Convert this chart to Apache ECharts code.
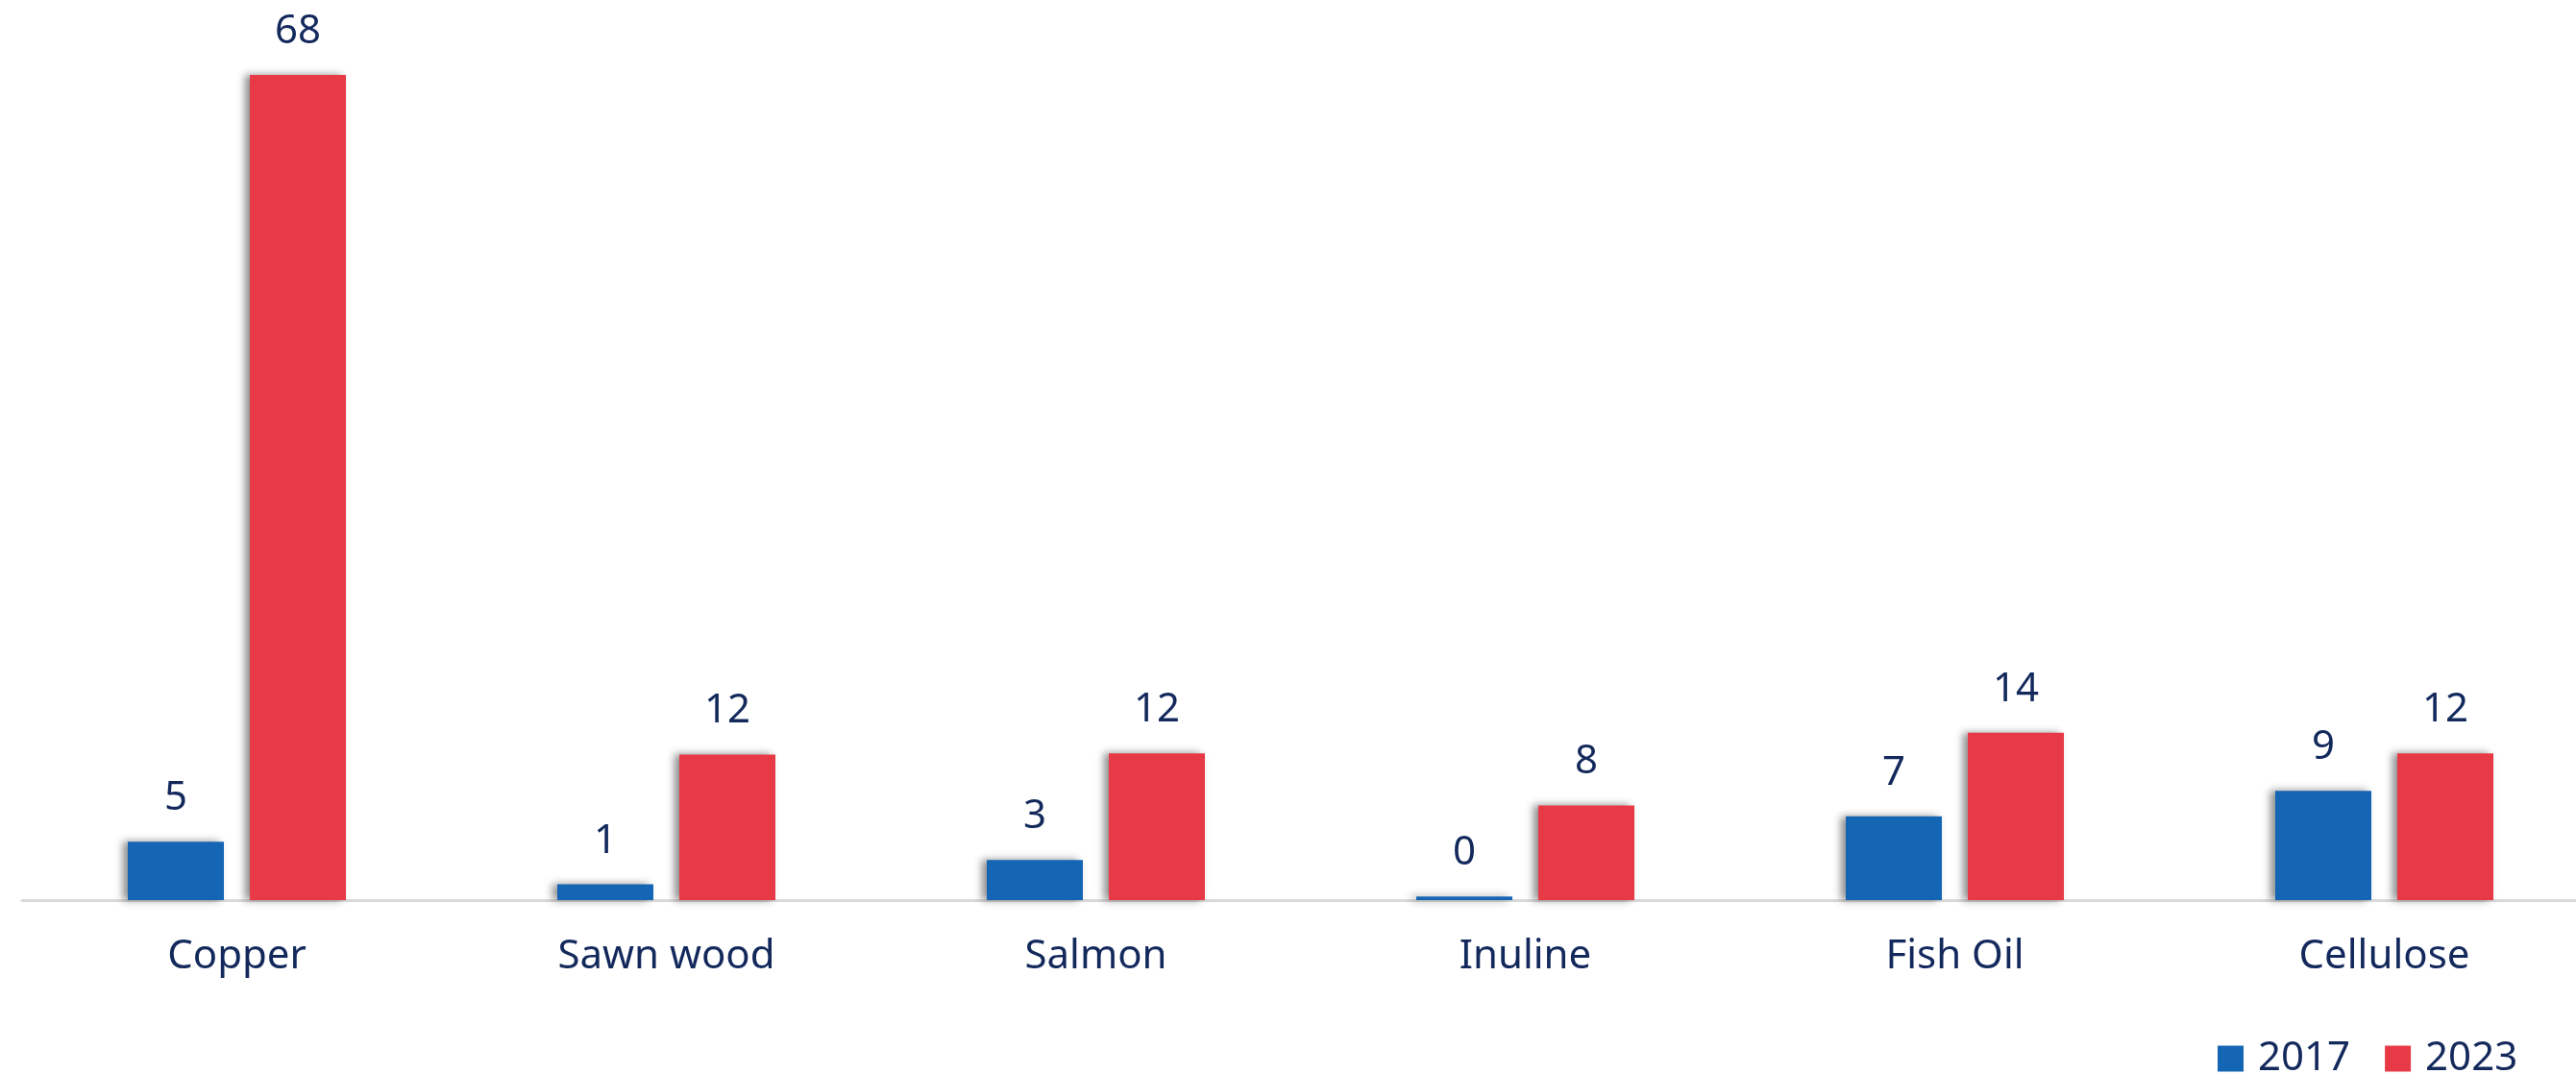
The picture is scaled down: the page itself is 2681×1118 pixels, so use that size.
<!DOCTYPE html>
<html>
<head>
<meta charset="utf-8">
<script src="https://cdn.jsdelivr.net/npm/echarts@6/dist/echarts.min.js"></script>
<style>
html,body{margin:0;padding:0;background:#fff;overflow:hidden;width:2681px;height:1118px;}
#chart{width:2740px;height:1118px;}
</style>
</head>
<body>
<div id="chart"></div>
<script>
const categories = ["Copper", "Sawn wood", "Salmon", "Inuline", "Fish Oil", "Cellulose"];
const seriesNames = ["2017", "2023"];
const values2017 = [4.8, 1.3, 3.3, 0.3, 6.9, 9.0];
const values2023 = [68, 12.0, 12.1, 7.8, 13.8, 12.1];

const textColor = "#13295c";
const fontFamily = "'Noto Sans', 'Open Sans', sans-serif";

const chart = echarts.init(document.getElementById('chart'));

function barSeries(name, data, color) {
  return {
    name: name,
    type: 'bar',
    data: data,
    barWidth: 100,
    barGap: '27%',
    itemStyle: {
      color: color,
      shadowColor: 'rgba(0,0,0,0.45)',
      shadowBlur: 8,
      shadowOffsetX: -5,
      shadowOffsetY: 0
    },
    label: {
      show: true,
      position: 'top',
      distance: 24,
      color: textColor,
      fontSize: 42,
      fontFamily: fontFamily,
      formatter: p => Math.round(p.value)
    }
  };
}

chart.setOption({
  animation: false,
  backgroundColor: '#ffffff',
  grid: { left: 23, width: 2682, top: 78, bottom: 181, containLabel: false },
  legend: {
    data: seriesNames,
    left: 2303,
    top: 1076,
    itemWidth: 27,
    itemHeight: 27,
    itemGap: 36,
    icon: 'rect',
    textStyle: { color: textColor, fontSize: 42, fontFamily: fontFamily, padding: [0, 0, 0, 10] }
  },
  xAxis: {
    type: 'category',
    data: categories,
    axisLine: { show: true, lineStyle: { color: '#d9d9d9', width: 3 } },
    axisTick: { show: false },
    axisLabel: { color: textColor, fontSize: 42, fontFamily: fontFamily, margin: 38 }
  },
  yAxis: {
    type: 'value',
    min: 0,
    max: 68,
    show: false,
    splitLine: { show: false }
  },
  series: [
    barSeries(seriesNames[0], values2017, '#1565b5'),
    barSeries(seriesNames[1], values2023, '#e73a46')
  ]
});
</script>
</body>
</html>
